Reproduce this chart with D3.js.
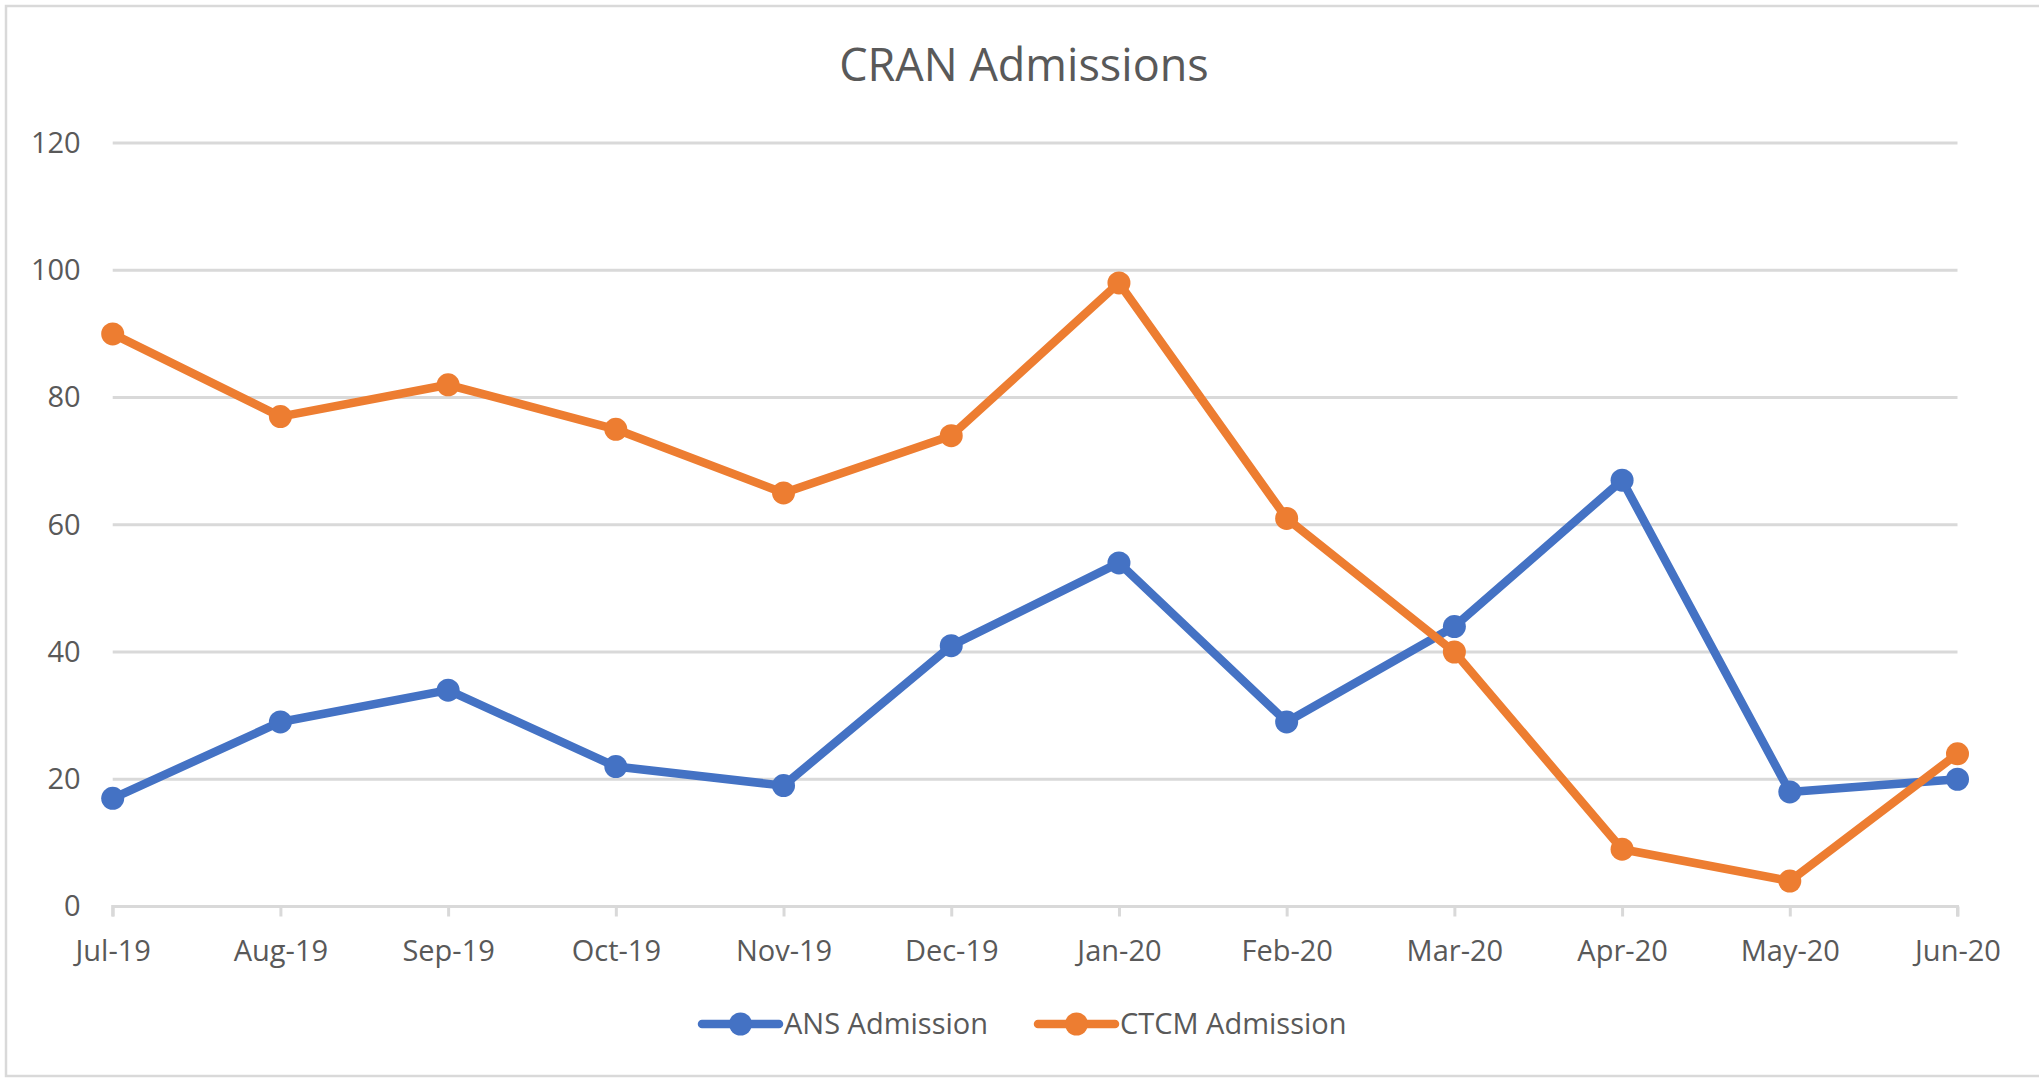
<!DOCTYPE html>
<html>
<head>
<meta charset="utf-8">
<script src="https://cdn.jsdelivr.net/npm/d3@7"></script>
<style>
  body { margin: 0; background: #fff; }
  text { font-family: "Open Sans", sans-serif; fill: #595959; }
</style>
</head>
<body>
<div id="chart"></div>
<script>
// data
var months = ["Jul-19", "Aug-19", "Sep-19", "Oct-19", "Nov-19", "Dec-19",
              "Jan-20", "Feb-20", "Mar-20", "Apr-20", "May-20", "Jun-20"];
var ansValues = [17, 29, 34, 22, 19, 41, 54, 29, 44, 67, 18, 20];
var ctcmValues = [90, 77, 82, 75, 65, 74, 98, 61, 40, 9, 4, 24];
var yTicks = [0, 20, 40, 60, 80, 100, 120];
var seriesNames = ["ANS Admission", "CTCM Admission"];

var width = 2039;
var height = 1078;
var colors = ["#4472C4", "#ED7D31"];
var lineStroke = 8.5;
var circleRadius = 11.5;

var series = [ansValues, ctcmValues].map(function(vals, i) {
    return { name: seriesNames[i], color: colors[i],
             values: vals.map(function(v, j) { return { month: months[j], value: v }; }) };
});

var svg = d3.select("#chart").append("svg")
    .attr("width", width)
    .attr("height", height);

// outer frame (left, top, bottom – right edge is cut off in the reference)
svg.append("path")
    .attr("d", `M${width},6H6V1076H${width}`)
    .attr("fill", "none")
    .attr("stroke", "#D9D9D9")
    .attr("stroke-width", 2.5);

/* Scales */
var xScale = d3.scalePoint()
    .domain(months)
    .range([112.7, 1957.5]);

var yScale = d3.scaleLinear()
    .domain([0, 120])
    .range([906.5, 143]);

/* Title */
svg.append("text")
    .attr("x", 1024)
    .attr("y", 81)
    .attr("text-anchor", "middle")
    .style("font-size", "45px")
    .text("CRAN Admissions");

/* Grid lines */
svg.append("g")
    .selectAll("line")
    .data(yTicks.filter(function(d) { return d > 0; }))
    .enter().append("line")
    .attr("x1", xScale.range()[0])
    .attr("x2", xScale.range()[1])
    .attr("y1", d => yScale(d))
    .attr("y2", d => yScale(d))
    .attr("stroke", "#D9D9D9")
    .attr("stroke-width", 3);

/* Y axis */
var yAxis = d3.axisLeft(yScale).tickValues(yTicks).tickSize(0).tickPadding(32);
var gy = svg.append("g")
    .attr("transform", `translate(${xScale.range()[0]}, 0)`)
    .call(yAxis);
gy.select(".domain").remove();
gy.selectAll("text").style("font-size", "29px").attr("fill", "#595959");

/* X axis */
var xAxis = d3.axisBottom(xScale).tickSize(10).tickPadding(24);
var gx = svg.append("g")
    .attr("transform", `translate(0, ${yScale(0)})`)
    .call(xAxis);
gx.select(".domain")
    .attr("stroke", "#D9D9D9")
    .attr("stroke-width", 3)
    .attr("d", `M${xScale.range()[0]},10V0H${xScale.range()[1]}V10`);
gx.selectAll(".tick line").attr("stroke", "#D9D9D9").attr("stroke-width", 3);
gx.selectAll("text").style("font-size", "29px").attr("fill", "#595959");

/* Lines */
var line = d3.line()
    .x(d => xScale(d.month))
    .y(d => yScale(d.value));

var lines = svg.append("g").attr("class", "lines");

lines.selectAll(".line")
    .data(series).enter()
    .append("path")
    .attr("class", "line")
    .attr("d", d => line(d.values))
    .attr("fill", "none")
    .attr("stroke", d => d.color)
    .attr("stroke-width", lineStroke)
    .attr("stroke-linejoin", "round")
    .attr("stroke-linecap", "round");

lines.selectAll(".circle-group")
    .data(series).enter()
    .append("g")
    .attr("class", "circle-group")
    .attr("fill", d => d.color)
    .selectAll("circle")
    .data(d => d.values).enter()
    .append("circle")
    .attr("cx", d => xScale(d.month))
    .attr("cy", d => yScale(d.value))
    .attr("r", circleRadius);

/* Legend */
var legendX = [702, 1038];
var legend = svg.append("g").selectAll("g")
    .data(series).enter()
    .append("g")
    .attr("transform", (d, i) => `translate(${legendX[i]}, 1024)`);

legend.append("line")
    .attr("x1", 0).attr("x2", 77)
    .attr("stroke", d => d.color)
    .attr("stroke-width", lineStroke)
    .attr("stroke-linecap", "round");
legend.append("circle")
    .attr("cx", 38.5)
    .attr("r", circleRadius)
    .attr("fill", d => d.color);
legend.append("text")
    .attr("x", 82)
    .attr("dy", "0.35em")
    .style("font-size", "29px")
    .text(d => d.name);
</script>
</body>
</html>
